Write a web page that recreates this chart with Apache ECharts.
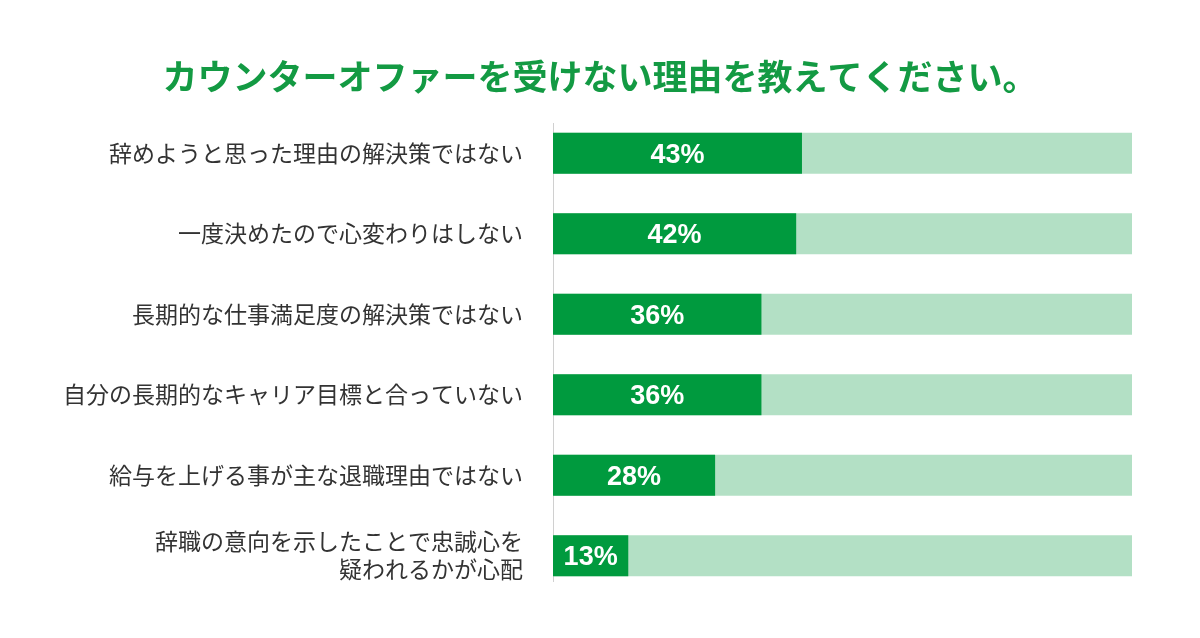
<!DOCTYPE html>
<html>
<head>
<meta charset="utf-8">
<style>html,body{margin:0;padding:0;background:#fff}#c{width:1200px;height:638px}</style>
<script src="https://cdn.jsdelivr.net/npm/echarts@6/dist/echarts.min.js"></script>
</head>
<body>
<div id="c"></div>
<script>
const titleText = 'カウンターオファーを受けない理由を教えてください。';
const categories = [
  '辞めようと思った理由の解決策ではない',
  '一度決めたので心変わりはしない',
  '長期的な仕事満足度の解決策ではない',
  '自分の長期的なキャリア目標と合っていない',
  '給与を上げる事が主な退職理由ではない',
  '辞職の意向を示したことで忠誠心を\n疑われるかが心配'
];
const values = [43, 42, 36, 36, 28, 13];

const chart = echarts.init(document.getElementById('c'));
chart.setOption({
  animation: false,
  backgroundColor: '#ffffff',
  title: {
    text: titleText,
    left: 'center',
    top: 54,
    textStyle: {
      color: '#139a43',
      fontSize: 35,
      fontWeight: 'bold',
      fontFamily: '"Noto Sans CJK JP", sans-serif'
    }
  },
  grid: { left: 553, right: 68, top: 113, height: 483 },
  graphic: [{
    type: 'line',
    shape: { x1: 553.5, y1: 123, x2: 553.5, y2: 582 },
    style: { stroke: '#d0d0d0', lineWidth: 1 },
    z: 0
  }],
  xAxis: {
    type: 'value', min: 0, max: 100,
    show: false
  },
  yAxis: {
    type: 'category',
    data: categories,
    inverse: true,
    axisLine: { show: false },
    axisTick: { show: false },
    axisLabel: {
      margin: 30,
      color: '#333333',
      fontSize: 23,
      lineHeight: 28,
      align: 'right',
      fontFamily: '"Noto Sans CJK JP", sans-serif'
    }
  },
  series: [{
    type: 'bar',
    data: values,
    barWidth: 41,
    itemStyle: { color: '#009a3e' },
    showBackground: true,
    backgroundStyle: { color: '#b3e0c5' },
    label: {
      show: true,
      position: 'inside',
      offset: [0, 2],
      formatter: '{c}%',
      color: '#ffffff',
      fontSize: 27,
      fontWeight: 'bold',
      fontFamily: '"Liberation Sans", Arial, sans-serif'
    }
  }]
});
</script>
</body>
</html>
